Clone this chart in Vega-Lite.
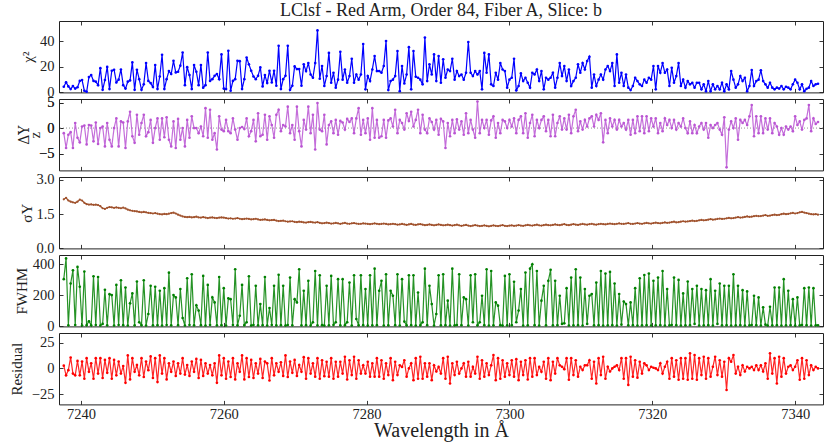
{
  "$schema": "https://vega.github.io/schema/vega-lite/v6.json",
  "padding": {"left": 8, "top": 2, "right": 8, "bottom": 0},
  "title": {"text": "LClsf - Red Arm, Order 84, Fiber A, Slice: b", "font": "Liberation Serif", "fontSize": 18, "fontWeight": "normal", "color": "#222", "offset": 0, "frame": "group", "anchor": "middle"},
  "datasets": {
    "t": [
      {"w":7237.6,"c":4.4,"d":-1,"s":2.15,"f":304,"r":2.7},
      {"w":7237.92,"c":8,"d":-3.9,"s":2.22,"f":438,"r":-6.7},
      {"w":7238.24,"c":4.7,"d":-1.3,"s":2.1,"f":6,"r":-1.7},
      {"w":7238.56,"c":2.6,"d":-0.8,"s":2.05,"f":276,"r":10.7},
      {"w":7238.88,"c":5,"d":-3.9,"s":2.02,"f":361,"r":-5},
      {"w":7239.2,"c":3,"d":1,"s":2.0,"f":8,"r":-6.7},
      {"w":7239.52,"c":4,"d":-1.9,"s":2.05,"f":383,"r":7.3},
      {"w":7239.84,"c":9,"d":-2.8,"s":2.14,"f":255,"r":-6.7},
      {"w":7240.16,"c":9.7,"d":0.3,"s":2.1,"f":5,"r":6.7},
      {"w":7240.48,"c":1.3,"d":0.5,"s":2.0,"f":353,"r":-10},
      {"w":7240.8,"c":0.5,"d":-3.2,"s":1.94,"f":7,"r":10},
      {"w":7241.12,"c":12,"d":0.6,"s":1.92,"f":32,"r":-3.3},
      {"w":7241.44,"c":13.6,"d":0.5,"s":1.93,"f":6,"r":5},
      {"w":7241.76,"c":9,"d":-2.6,"s":1.91,"f":323,"r":-10},
      {"w":7242.08,"c":8.4,"d":1.1,"s":1.92,"f":8,"r":10},
      {"w":7242.4,"c":5.7,"d":-3.1,"s":1.9,"f":318,"r":-5},
      {"w":7242.72,"c":19,"d":0,"s":1.85,"f":5,"r":10},
      {"w":7243.04,"c":2,"d":0.3,"s":1.76,"f":15,"r":-9.3},
      {"w":7243.36,"c":9.7,"d":-3.6,"s":1.73,"f":235,"r":8.3},
      {"w":7243.68,"c":20,"d":1,"s":1.78,"f":6,"r":-4.3},
      {"w":7244,"c":2.6,"d":-2.3,"s":1.81,"f":207,"r":10},
      {"w":7244.32,"c":17,"d":-3.6,"s":1.8,"f":201,"r":-10},
      {"w":7244.64,"c":17.8,"d":0,"s":1.78,"f":5,"r":8.3},
      {"w":7244.96,"c":7.8,"d":1.9,"s":1.8,"f":267,"r":-6.7},
      {"w":7245.28,"c":10,"d":-3.6,"s":1.78,"f":8,"r":6.7},
      {"w":7245.6,"c":18,"d":1.3,"s":1.76,"f":297,"r":-5},
      {"w":7245.92,"c":5.7,"d":1.1,"s":1.79,"f":7,"r":2.3},
      {"w":7246.24,"c":3,"d":-3.9,"s":1.75,"f":250,"r":-14},
      {"w":7246.56,"c":8.4,"d":1.3,"s":1.7,"f":5,"r":12.7},
      {"w":7246.88,"c":9.4,"d":3.2,"s":1.67,"f":148,"r":-10.7},
      {"w":7247.2,"c":23.5,"d":-1.6,"s":1.65,"f":212,"r":10},
      {"w":7247.52,"c":2,"d":-2.9,"s":1.63,"f":6,"r":-3.3},
      {"w":7247.84,"c":17.8,"d":2.6,"s":1.62,"f":289,"r":3.3},
      {"w":7248.16,"c":10.4,"d":-1.3,"s":1.6,"f":26,"r":-6.7},
      {"w":7248.48,"c":2,"d":1,"s":1.58,"f":7,"r":10},
      {"w":7248.8,"c":6.3,"d":2.6,"s":1.6,"f":297,"r":-8.3},
      {"w":7249.12,"c":23,"d":-1.6,"s":1.58,"f":5,"r":6.7},
      {"w":7249.44,"c":9,"d":-0.8,"s":1.56,"f":79,"r":-1.7},
      {"w":7249.76,"c":7.3,"d":1.6,"s":1.55,"f":261,"r":11.7},
      {"w":7250.08,"c":4.2,"d":-2.9,"s":1.53,"f":6,"r":-9.3},
      {"w":7250.4,"c":21.4,"d":0,"s":1.55,"f":255,"r":10},
      {"w":7250.72,"c":2.6,"d":1.9,"s":1.52,"f":7,"r":-13.3},
      {"w":7251.04,"c":12.5,"d":-2.3,"s":1.5,"f":229,"r":12.7},
      {"w":7251.36,"c":29.5,"d":1.9,"s":1.49,"f":5,"r":-5},
      {"w":7251.68,"c":2.6,"d":-1.8,"s":1.51,"f":246,"r":10},
      {"w":7252,"c":10.4,"d":2.1,"s":1.5,"f":8,"r":-10.7},
      {"w":7252.32,"c":16.7,"d":-2.3,"s":1.52,"f":346,"r":5},
      {"w":7252.64,"c":14.4,"d":-3.6,"s":1.55,"f":6,"r":-3.3},
      {"w":7252.96,"c":24.8,"d":1.3,"s":1.57,"f":201,"r":6.7},
      {"w":7253.28,"c":15.7,"d":-3.9,"s":1.53,"f":186,"r":-7.3},
      {"w":7253.6,"c":16.2,"d":1.8,"s":1.48,"f":7,"r":5},
      {"w":7253.92,"c":21,"d":-2.3,"s":1.44,"f":240,"r":-5},
      {"w":7254.24,"c":31.3,"d":0,"s":1.4,"f":53,"r":10},
      {"w":7254.56,"c":5.7,"d":-3.6,"s":1.38,"f":5,"r":-6},
      {"w":7254.88,"c":19.8,"d":1.6,"s":1.37,"f":310,"r":3.3},
      {"w":7255.2,"c":13.6,"d":-1.9,"s":1.38,"f":8,"r":-7.3},
      {"w":7255.52,"c":2.6,"d":2.3,"s":1.36,"f":336,"r":6.7},
      {"w":7255.84,"c":21.4,"d":0,"s":1.37,"f":6,"r":-3.3},
      {"w":7256.16,"c":16.2,"d":0,"s":1.39,"f":135,"r":9.3},
      {"w":7256.48,"c":5.7,"d":-1,"s":1.36,"f":101,"r":-9.3},
      {"w":7256.8,"c":21.4,"d":0.3,"s":1.35,"f":7,"r":8.3},
      {"w":7257.12,"c":3.7,"d":-1.6,"s":1.37,"f":325,"r":-7.3},
      {"w":7257.44,"c":5.7,"d":3.9,"s":1.35,"f":5,"r":5},
      {"w":7257.76,"c":31.3,"d":-1.9,"s":1.33,"f":267,"r":-5},
      {"w":7258.08,"c":9,"d":3.6,"s":1.35,"f":8,"r":3.3},
      {"w":7258.4,"c":10.4,"d":-2.3,"s":1.36,"f":186,"r":-6.7},
      {"w":7258.72,"c":13,"d":-1,"s":1.34,"f":154,"r":5},
      {"w":7259.04,"c":14.4,"d":-4.2,"s":1.33,"f":6,"r":-14},
      {"w":7259.36,"c":10.4,"d":2.3,"s":1.35,"f":318,"r":12.7},
      {"w":7259.68,"c":29.8,"d":-0.3,"s":1.36,"f":7,"r":-6.7},
      {"w":7260,"c":3,"d":-0.6,"s":1.35,"f":246,"r":10},
      {"w":7260.32,"c":2.6,"d":1.6,"s":1.33,"f":5,"r":-10},
      {"w":7260.64,"c":32.6,"d":-0.6,"s":1.31,"f":180,"r":6.7},
      {"w":7260.96,"c":1.3,"d":-1,"s":1.32,"f":175,"r":-8.3},
      {"w":7261.28,"c":9,"d":1.9,"s":1.3,"f":8,"r":10},
      {"w":7261.6,"c":10.4,"d":-0.3,"s":1.31,"f":368,"r":-10.7},
      {"w":7261.92,"c":24.8,"d":-2.3,"s":1.33,"f":6,"r":5},
      {"w":7262.24,"c":24.5,"d":0,"s":1.3,"f":68,"r":-3.3},
      {"w":7262.56,"c":2.6,"d":0.2,"s":1.28,"f":267,"r":12.7},
      {"w":7262.88,"c":10.4,"d":-0.2,"s":1.29,"f":7,"r":-10.7},
      {"w":7263.2,"c":27.4,"d":1.9,"s":1.31,"f":26,"r":10},
      {"w":7263.52,"c":22,"d":-1.6,"s":1.29,"f":323,"r":-8.3},
      {"w":7263.84,"c":17,"d":-0.6,"s":1.27,"f":5,"r":8.3},
      {"w":7264.16,"c":12.5,"d":1.6,"s":1.28,"f":8,"r":-9.3},
      {"w":7264.48,"c":10.4,"d":-2.6,"s":1.3,"f":261,"r":5},
      {"w":7264.8,"c":13,"d":2.9,"s":1.27,"f":6,"r":-5},
      {"w":7265.12,"c":19.6,"d":-1.6,"s":1.25,"f":143,"r":9.3},
      {"w":7265.44,"c":4.7,"d":-1.3,"s":1.26,"f":7,"r":-9.3},
      {"w":7265.76,"c":13.6,"d":2.6,"s":1.27,"f":318,"r":6.7},
      {"w":7266.08,"c":7.3,"d":-2.3,"s":1.25,"f":5,"r":5},
      {"w":7266.4,"c":17,"d":2.3,"s":1.23,"f":118,"r":-11.7},
      {"w":7266.72,"c":7.8,"d":0.6,"s":1.24,"f":8,"r":10},
      {"w":7267.04,"c":17,"d":-1.9,"s":1.25,"f":261,"r":-6.7},
      {"w":7267.36,"c":5.2,"d":2.6,"s":1.22,"f":6,"r":5},
      {"w":7267.68,"c":36.5,"d":3.6,"s":1.2,"f":332,"r":-3.3},
      {"w":7268,"c":2.6,"d":-0.6,"s":1.21,"f":7,"r":6},
      {"w":7268.32,"c":10.4,"d":0.6,"s":1.22,"f":261,"r":-7.3},
      {"w":7268.64,"c":13,"d":0.3,"s":1.19,"f":5,"r":12.7},
      {"w":7268.96,"c":36.5,"d":4.2,"s":1.17,"f":8,"r":-8.3},
      {"w":7269.28,"c":2,"d":-1,"s":1.18,"f":314,"r":6.7},
      {"w":7269.6,"c":5.2,"d":0.6,"s":1.19,"f":6,"r":-4.3},
      {"w":7269.92,"c":20.4,"d":-2.3,"s":1.16,"f":175,"r":8.3},
      {"w":7270.24,"c":18.3,"d":4.2,"s":1.15,"f":154,"r":-7.3},
      {"w":7270.56,"c":18.3,"d":-0.6,"s":1.17,"f":368,"r":3.3},
      {"w":7270.88,"c":5.2,"d":-3.6,"s":1.16,"f":6,"r":-3.3},
      {"w":7271.2,"c":22,"d":1.6,"s":1.14,"f":229,"r":11},
      {"w":7271.52,"c":16.7,"d":-0.3,"s":1.13,"f":7,"r":-10},
      {"w":7271.84,"c":23,"d":4.2,"s":1.15,"f":293,"r":10},
      {"w":7272.16,"c":14,"d":-1,"s":1.16,"f":5,"r":-5},
      {"w":7272.48,"c":11.5,"d":2.6,"s":1.14,"f":26,"r":5},
      {"w":7272.8,"c":23,"d":-4.2,"s":1.13,"f":357,"r":-8},
      {"w":7273.12,"c":48.6,"d":4.9,"s":1.15,"f":6,"r":10},
      {"w":7273.44,"c":10.7,"d":-0.3,"s":1.12,"f":329,"r":-10},
      {"w":7273.76,"c":20.7,"d":-0.6,"s":1.1,"f":7,"r":8},
      {"w":7274.08,"c":5,"d":2.6,"s":1.11,"f":5,"r":-7.5},
      {"w":7274.4,"c":12.8,"d":-3.2,"s":1.13,"f":261,"r":6.5},
      {"w":7274.72,"c":31,"d":0.6,"s":1.11,"f":6,"r":-8},
      {"w":7275.04,"c":7.6,"d":1.3,"s":1.09,"f":325,"r":10},
      {"w":7275.36,"c":15.4,"d":-1,"s":1.1,"f":8,"r":-10},
      {"w":7275.68,"c":3.7,"d":1.6,"s":1.12,"f":26,"r":6.5},
      {"w":7276,"c":10,"d":-1.3,"s":1.1,"f":304,"r":-8},
      {"w":7276.32,"c":31.9,"d":1.4,"s":1.08,"f":6,"r":6.5},
      {"w":7276.64,"c":10,"d":1.1,"s":1.1,"f":304,"r":-5},
      {"w":7276.96,"c":18,"d":-0.3,"s":1.12,"f":7,"r":11.4},
      {"w":7277.28,"c":7.6,"d":1.8,"s":1.09,"f":26,"r":-10.8},
      {"w":7277.6,"c":12.8,"d":1.2,"s":1.08,"f":282,"r":8},
      {"w":7277.92,"c":26.4,"d":1.9,"s":1.1,"f":5,"r":-6.5},
      {"w":7278.24,"c":7.6,"d":-1,"s":1.11,"f":329,"r":11.4},
      {"w":7278.56,"c":14,"d":1.9,"s":1.09,"f":47,"r":-10},
      {"w":7278.88,"c":10,"d":3.9,"s":1.07,"f":6,"r":8},
      {"w":7279.2,"c":14,"d":-1.3,"s":1.08,"f":329,"r":-5},
      {"w":7279.52,"c":38,"d":1.6,"s":1.1,"f":7,"r":3},
      {"w":7279.84,"c":2.4,"d":-1,"s":1.09,"f":240,"r":-5},
      {"w":7280.16,"c":12.8,"d":1.9,"s":1.07,"f":5,"r":6.5},
      {"w":7280.48,"c":8.9,"d":-2.3,"s":1.06,"f":329,"r":-8},
      {"w":7280.8,"c":18,"d":3.9,"s":1.08,"f":6,"r":5},
      {"w":7281.12,"c":28.5,"d":-1.9,"s":1.1,"f":372,"r":-8},
      {"w":7281.44,"c":16.7,"d":1.6,"s":1.08,"f":7,"r":10},
      {"w":7281.76,"c":16.7,"d":-1.9,"s":1.06,"f":229,"r":-8},
      {"w":7282.08,"c":15.4,"d":-1.6,"s":1.07,"f":293,"r":8},
      {"w":7282.4,"c":20.7,"d":1.6,"s":1.09,"f":5,"r":-10},
      {"w":7282.72,"c":40.3,"d":-1.9,"s":1.07,"f":336,"r":5},
      {"w":7283.04,"c":1.8,"d":1.5,"s":1.05,"f":6,"r":-6.5},
      {"w":7283.36,"c":8.9,"d":1.9,"s":1.06,"f":229,"r":10},
      {"w":7283.68,"c":10,"d":0.3,"s":1.08,"f":197,"r":-11.4},
      {"w":7284,"c":12.8,"d":3.6,"s":1.06,"f":7,"r":6.5},
      {"w":7284.32,"c":32.4,"d":-1,"s":1.04,"f":336,"r":-6.5},
      {"w":7284.64,"c":1,"d":1.6,"s":1.05,"f":5,"r":3},
      {"w":7284.96,"c":20.7,"d":1,"s":1.07,"f":304,"r":1.5},
      {"w":7285.28,"c":7,"d":-0.3,"s":1.05,"f":30,"r":8},
      {"w":7285.6,"c":14,"d":2.9,"s":1.03,"f":6,"r":-8},
      {"w":7285.92,"c":35.5,"d":1.4,"s":1.05,"f":329,"r":0},
      {"w":7286.24,"c":2.4,"d":3.2,"s":1.07,"f":7,"r":5},
      {"w":7286.56,"c":32.4,"d":0.3,"s":1.04,"f":329,"r":-11.4},
      {"w":7286.88,"c":12.3,"d":1.6,"s":1.03,"f":5,"r":10},
      {"w":7287.2,"c":11.5,"d":3.6,"s":1.05,"f":218,"r":-10},
      {"w":7287.52,"c":10,"d":-1,"s":1.06,"f":6,"r":11.4},
      {"w":7287.84,"c":6.3,"d":2.6,"s":1.04,"f":26,"r":-10},
      {"w":7288.16,"c":43,"d":-0.3,"s":1.02,"f":372,"r":5},
      {"w":7288.48,"c":8.9,"d":-1,"s":1.03,"f":7,"r":-8},
      {"w":7288.8,"c":22,"d":1.9,"s":1.05,"f":261,"r":5},
      {"w":7289.12,"c":14,"d":1.2,"s":1.03,"f":143,"r":-11.4},
      {"w":7289.44,"c":29.8,"d":-0.3,"s":1.01,"f":5,"r":3},
      {"w":7289.76,"c":8.9,"d":1.6,"s":1.03,"f":79,"r":-3},
      {"w":7290.08,"c":28.5,"d":-1.3,"s":1.05,"f":329,"r":1.5},
      {"w":7290.4,"c":7.6,"d":1.8,"s":1.03,"f":6,"r":-5},
      {"w":7290.72,"c":26,"d":1.3,"s":1.01,"f":336,"r":10},
      {"w":7291.04,"c":11.5,"d":-3.9,"s":1.02,"f":7,"r":-10},
      {"w":7291.36,"c":18,"d":1,"s":1.04,"f":165,"r":11.4},
      {"w":7291.68,"c":16.7,"d":-1.6,"s":1.02,"f":5,"r":-14.7},
      {"w":7292,"c":26.4,"d":1.6,"s":1.0,"f":372,"r":5},
      {"w":7292.32,"c":10,"d":-1,"s":1.02,"f":6,"r":-6.5},
      {"w":7292.64,"c":16.7,"d":1.7,"s":1.04,"f":8,"r":6.5},
      {"w":7292.96,"c":12.8,"d":-0.3,"s":1.01,"f":336,"r":-5},
      {"w":7293.28,"c":14,"d":1.3,"s":0.99,"f":7,"r":0},
      {"w":7293.6,"c":10,"d":-1.3,"s":1.01,"f":186,"r":5},
      {"w":7293.92,"c":15.4,"d":2.9,"s":1.03,"f":175,"r":-8},
      {"w":7294.24,"c":39.5,"d":-1,"s":1.0,"f":5,"r":6.5},
      {"w":7294.56,"c":15.4,"d":1.6,"s":0.98,"f":329,"r":-8},
      {"w":7294.88,"c":12.8,"d":-0.3,"s":1.0,"f":26,"r":1.5},
      {"w":7295.2,"c":16.7,"d":-1.9,"s":1.02,"f":336,"r":-5},
      {"w":7295.52,"c":14,"d":5.2,"s":1.0,"f":6,"r":11.4},
      {"w":7295.84,"c":16.7,"d":-1,"s":0.98,"f":26,"r":-10},
      {"w":7296.16,"c":2.4,"d":1.6,"s":0.99,"f":197,"r":8},
      {"w":7296.48,"c":31,"d":0,"s":1.01,"f":7,"r":-8},
      {"w":7296.8,"c":15.4,"d":1.6,"s":0.99,"f":368,"r":5},
      {"w":7297.12,"c":29.8,"d":-1.3,"s":0.97,"f":5,"r":-6.5},
      {"w":7297.44,"c":6.3,"d":1.5,"s":0.99,"f":357,"r":3},
      {"w":7297.76,"c":5,"d":2.3,"s":1.01,"f":6,"r":13},
      {"w":7298.08,"c":15.4,"d":-1.9,"s":0.99,"f":154,"r":-11.4},
      {"w":7298.4,"c":10,"d":1,"s":0.98,"f":133,"r":10},
      {"w":7298.72,"c":23,"d":-1,"s":1.0,"f":7,"r":-10},
      {"w":7299.04,"c":18,"d":1.6,"s":1.02,"f":5,"r":8},
      {"w":7299.36,"c":16.7,"d":1.3,"s":0.99,"f":325,"r":-8},
      {"w":7299.68,"c":3.7,"d":0,"s":0.98,"f":6,"r":5},
      {"w":7300,"c":10,"d":1.6,"s":1.0,"f":336,"r":-6.5},
      {"w":7300.32,"c":11.5,"d":0.3,"s":1.01,"f":7,"r":8},
      {"w":7300.64,"c":26.4,"d":1.9,"s":0.99,"f":287,"r":-8},
      {"w":7300.96,"c":1.6,"d":-1,"s":1.0,"f":26,"r":9},
      {"w":7301.28,"c":5,"d":1.6,"s":1.02,"f":101,"r":-11.4},
      {"w":7301.6,"c":14.9,"d":2.3,"s":1.0,"f":240,"r":6.5},
      {"w":7301.92,"c":8.9,"d":-1,"s":0.99,"f":5,"r":-6.5},
      {"w":7302.24,"c":11.5,"d":2.9,"s":1.01,"f":347,"r":8},
      {"w":7302.56,"c":7.6,"d":-1.9,"s":1.03,"f":6,"r":-10.8},
      {"w":7302.88,"c":3.7,"d":1,"s":1.01,"f":372,"r":10},
      {"w":7303.2,"c":15.4,"d":2.6,"s":1.0,"f":400,"r":-8},
      {"w":7303.52,"c":14,"d":-1.6,"s":1.02,"f":7,"r":10},
      {"w":7303.84,"c":18,"d":1.6,"s":1.04,"f":357,"r":-6.5},
      {"w":7304.16,"c":8.9,"d":0,"s":1.01,"f":5,"r":1.5},
      {"w":7304.48,"c":16.7,"d":1.6,"s":1.0,"f":165,"r":-3.3},
      {"w":7304.8,"c":2.4,"d":2.3,"s":1.02,"f":261,"r":6.5},
      {"w":7305.12,"c":11.5,"d":-0.6,"s":1.04,"f":6,"r":-10},
      {"w":7305.44,"c":10,"d":1.6,"s":1.02,"f":293,"r":10},
      {"w":7305.76,"c":11.5,"d":-1.6,"s":1.01,"f":364,"r":-11.4},
      {"w":7306.08,"c":15.4,"d":2.6,"s":1.03,"f":6,"r":6.5},
      {"w":7306.4,"c":3.7,"d":-1.6,"s":1.05,"f":293,"r":-5},
      {"w":7306.72,"c":11.5,"d":1,"s":1.03,"f":7,"r":10},
      {"w":7307.04,"c":23,"d":2.3,"s":1.02,"f":197,"r":3},
      {"w":7307.36,"c":12.8,"d":-0.3,"s":1.04,"f":15,"r":1.6},
      {"w":7307.68,"c":20.7,"d":1.9,"s":1.06,"f":19,"r":-0.7},
      {"w":7308,"c":8.9,"d":-0.3,"s":1.03,"f":246,"r":10},
      {"w":7308.32,"c":18,"d":2.6,"s":1.02,"f":5,"r":-11},
      {"w":7308.64,"c":5,"d":-1,"s":1.04,"f":314,"r":10},
      {"w":7308.96,"c":8.9,"d":2.3,"s":1.06,"f":6,"r":-6.5},
      {"w":7309.28,"c":11.5,"d":3.6,"s":1.04,"f":368,"r":8},
      {"w":7309.6,"c":22,"d":-0.6,"s":1.03,"f":7,"r":-8},
      {"w":7309.92,"c":15.4,"d":1.3,"s":1.05,"f":314,"r":1.6},
      {"w":7310.24,"c":23,"d":-0.3,"s":1.07,"f":5,"r":-1.6},
      {"w":7310.56,"c":18,"d":1.6,"s":1.05,"f":240,"r":3},
      {"w":7310.88,"c":24.6,"d":0.3,"s":1.04,"f":15,"r":3},
      {"w":7311.2,"c":28,"d":1.9,"s":1.06,"f":197,"r":8},
      {"w":7311.52,"c":3.7,"d":2.3,"s":1.08,"f":208,"r":-10},
      {"w":7311.84,"c":14,"d":0.3,"s":1.05,"f":6,"r":6.5},
      {"w":7312.16,"c":5,"d":2.6,"s":1.04,"f":282,"r":-14.7},
      {"w":7312.48,"c":10,"d":1.6,"s":1.06,"f":7,"r":10},
      {"w":7312.8,"c":14,"d":2.9,"s":1.08,"f":357,"r":-6.5},
      {"w":7313.12,"c":10,"d":-2.8,"s":1.06,"f":5,"r":11.4},
      {"w":7313.44,"c":18,"d":1.6,"s":1.05,"f":340,"r":-10},
      {"w":7313.76,"c":20.7,"d":-1,"s":1.07,"f":6,"r":1.6},
      {"w":7314.08,"c":16.7,"d":1.9,"s":1.09,"f":351,"r":-3},
      {"w":7314.4,"c":23,"d":0.3,"s":1.07,"f":7,"r":0},
      {"w":7314.72,"c":5,"d":1.6,"s":1.06,"f":276,"r":1.6},
      {"w":7315.04,"c":29.8,"d":-0.3,"s":1.08,"f":5,"r":3},
      {"w":7315.36,"c":7.6,"d":1.6,"s":1.1,"f":208,"r":-1.6},
      {"w":7315.68,"c":15.4,"d":0.3,"s":1.08,"f":10,"r":10},
      {"w":7316,"c":5,"d":1,"s":1.07,"f":160,"r":-10},
      {"w":7316.32,"c":14,"d":-0.3,"s":1.09,"f":143,"r":10},
      {"w":7316.64,"c":3.7,"d":1.6,"s":1.11,"f":6,"r":-16},
      {"w":7316.96,"c":1.8,"d":-1.3,"s":1.08,"f":154,"r":11.4},
      {"w":7317.28,"c":5,"d":1.6,"s":1.07,"f":7,"r":-8},
      {"w":7317.6,"c":11.5,"d":-1,"s":1.09,"f":246,"r":8},
      {"w":7317.92,"c":8.9,"d":2.3,"s":1.11,"f":5,"r":-9},
      {"w":7318.24,"c":6.3,"d":-0.6,"s":1.09,"f":310,"r":6.5},
      {"w":7318.56,"c":5,"d":2.3,"s":1.08,"f":6,"r":-5},
      {"w":7318.88,"c":10,"d":-1,"s":1.1,"f":331,"r":5},
      {"w":7319.2,"c":7.6,"d":2.3,"s":1.12,"f":7,"r":3},
      {"w":7319.52,"c":11.5,"d":-0.6,"s":1.1,"f":340,"r":-1.6},
      {"w":7319.84,"c":10,"d":1.9,"s":1.09,"f":5,"r":1.6},
      {"w":7320.16,"c":20.7,"d":0.3,"s":1.11,"f":293,"r":0.7},
      {"w":7320.48,"c":2.4,"d":1.9,"s":1.13,"f":6,"r":0},
      {"w":7320.8,"c":20.7,"d":-1,"s":1.11,"f":314,"r":-1.6},
      {"w":7321.12,"c":15.4,"d":1,"s":1.1,"f":7,"r":5},
      {"w":7321.44,"c":23,"d":-0.6,"s":1.12,"f":357,"r":-5},
      {"w":7321.76,"c":15.4,"d":1.9,"s":1.14,"f":5,"r":1.6},
      {"w":7322.08,"c":18,"d":0.6,"s":1.12,"f":240,"r":6.5},
      {"w":7322.4,"c":5,"d":1.6,"s":1.13,"f":6,"r":-10},
      {"w":7322.72,"c":19.3,"d":0,"s":1.15,"f":8,"r":10},
      {"w":7323.04,"c":7.6,"d":1.6,"s":1.17,"f":314,"r":-8},
      {"w":7323.36,"c":12.8,"d":-0.3,"s":1.14,"f":7,"r":8},
      {"w":7323.68,"c":23,"d":1,"s":1.15,"f":299,"r":-11},
      {"w":7324,"c":5,"d":0.3,"s":1.17,"f":5,"r":10},
      {"w":7324.32,"c":10,"d":1.9,"s":1.19,"f":212,"r":-10},
      {"w":7324.64,"c":3.7,"d":0,"s":1.17,"f":6,"r":10},
      {"w":7324.96,"c":8.9,"d":-1,"s":1.18,"f":289,"r":-11},
      {"w":7325.28,"c":6.3,"d":1.3,"s":1.2,"f":7,"r":14.7},
      {"w":7325.6,"c":7.6,"d":-1,"s":1.22,"f":240,"r":-10},
      {"w":7325.92,"c":3.7,"d":0.6,"s":1.2,"f":15,"r":13},
      {"w":7326.24,"c":7.6,"d":-1,"s":1.21,"f":261,"r":-11},
      {"w":7326.56,"c":7.6,"d":0.3,"s":1.23,"f":5,"r":10},
      {"w":7326.88,"c":2.4,"d":1,"s":1.25,"f":240,"r":-6.5},
      {"w":7327.2,"c":6.3,"d":-0.3,"s":1.23,"f":6,"r":11.4},
      {"w":7327.52,"c":1,"d":1,"s":1.24,"f":233,"r":-10},
      {"w":7327.84,"c":8.9,"d":-1.9,"s":1.26,"f":7,"r":10},
      {"w":7328.16,"c":1,"d":0.6,"s":1.28,"f":304,"r":-8},
      {"w":7328.48,"c":6.3,"d":0,"s":1.26,"f":5,"r":1.6},
      {"w":7328.8,"c":2.4,"d":0.6,"s":1.27,"f":229,"r":11.4},
      {"w":7329.12,"c":5,"d":1,"s":1.29,"f":15,"r":-6.5},
      {"w":7329.44,"c":2.4,"d":-0.3,"s":1.31,"f":276,"r":8},
      {"w":7329.76,"c":7.6,"d":-1.3,"s":1.29,"f":6,"r":-8},
      {"w":7330.08,"c":1,"d":2.1,"s":1.3,"f":261,"r":6.5},
      {"w":7330.4,"c":6.3,"d":-7.7,"s":1.32,"f":7,"r":-21},
      {"w":7330.72,"c":2.4,"d":-0.3,"s":1.34,"f":261,"r":10},
      {"w":7331.04,"c":16.7,"d":1.3,"s":1.32,"f":5,"r":6.5},
      {"w":7331.36,"c":10,"d":0,"s":1.33,"f":336,"r":13},
      {"w":7331.68,"c":3.7,"d":1.9,"s":1.35,"f":6,"r":-5},
      {"w":7332,"c":6.3,"d":-2.3,"s":1.37,"f":261,"r":1.6},
      {"w":7332.32,"c":12.8,"d":1.6,"s":1.35,"f":7,"r":-6.5},
      {"w":7332.64,"c":8.9,"d":1,"s":1.36,"f":233,"r":3},
      {"w":7332.96,"c":11.5,"d":1.6,"s":1.38,"f":5,"r":-3},
      {"w":7333.28,"c":1,"d":0.6,"s":1.4,"f":225,"r":1.6},
      {"w":7333.6,"c":5,"d":2.3,"s":1.38,"f":6,"r":0},
      {"w":7333.92,"c":17.5,"d":4.5,"s":1.39,"f":8,"r":1.6},
      {"w":7334.24,"c":5,"d":-1.6,"s":1.41,"f":197,"r":-1.6},
      {"w":7334.56,"c":8.9,"d":2.3,"s":1.43,"f":7,"r":3},
      {"w":7334.88,"c":10,"d":-1,"s":1.41,"f":186,"r":-1.6},
      {"w":7335.2,"c":17.3,"d":2.3,"s":1.42,"f":5,"r":3},
      {"w":7335.52,"c":8.9,"d":-1,"s":1.44,"f":122,"r":-3},
      {"w":7335.84,"c":6.3,"d":1.9,"s":1.46,"f":10,"r":5},
      {"w":7336.16,"c":3.7,"d":-0.3,"s":1.43,"f":5,"r":-10},
      {"w":7336.48,"c":7.6,"d":1.9,"s":1.44,"f":126,"r":14.7},
      {"w":7336.8,"c":3.7,"d":-1,"s":1.46,"f":6,"r":-5},
      {"w":7337.12,"c":2.4,"d":1,"s":1.48,"f":250,"r":10},
      {"w":7337.44,"c":3.7,"d":0.3,"s":1.46,"f":7,"r":-14.7},
      {"w":7337.76,"c":3,"d":-1.3,"s":1.47,"f":250,"r":11.4},
      {"w":7338.08,"c":5,"d":0,"s":1.5,"f":5,"r":-8},
      {"w":7338.4,"c":2.4,"d":-1.3,"s":1.52,"f":304,"r":10},
      {"w":7338.72,"c":4.4,"d":0.3,"s":1.5,"f":6,"r":-5},
      {"w":7339.04,"c":3.7,"d":-0.3,"s":1.51,"f":229,"r":1.6},
      {"w":7339.36,"c":2.4,"d":0.3,"s":1.54,"f":7,"r":3},
      {"w":7339.68,"c":6.3,"d":-0.6,"s":1.56,"f":175,"r":-1.6},
      {"w":7340,"c":10,"d":2.3,"s":1.53,"f":5,"r":1.6},
      {"w":7340.32,"c":7.6,"d":0.6,"s":1.55,"f":186,"r":8},
      {"w":7340.64,"c":2.4,"d":1.3,"s":1.58,"f":6,"r":-11},
      {"w":7340.96,"c":6.3,"d":-0.3,"s":1.6,"f":8,"r":10},
      {"w":7341.28,"c":1,"d":1.6,"s":1.57,"f":246,"r":-10},
      {"w":7341.6,"c":2.8,"d":1.9,"s":1.55,"f":7,"r":8},
      {"w":7341.92,"c":3.7,"d":4.5,"s":1.52,"f":250,"r":-6.5},
      {"w":7342.24,"c":8.9,"d":-0.6,"s":1.5,"f":5,"r":3},
      {"w":7342.56,"c":5,"d":1.9,"s":1.49,"f":246,"r":-1.6},
      {"w":7342.88,"c":6.3,"d":0.8,"s":1.5,"f":6,"r":1.6},
      {"w":7343.2,"c":6.8,"d":1.2,"s":1.48,"f":6,"r":0}
    ]
  },
  "data": {"name": "t"},
  "spacing": 6,
  "bounds": "flush",
  "vconcat": [
    {
      "width": 764, "height": 71.4,
      "layer": [
        {
          "mark": {"type": "line", "color": "#0000ff", "strokeWidth": 1.2},
          "encoding": {
            "x": {"field": "w", "type": "quantitative", "scale": {"domain": [7236.93, 7343.9], "nice": false, "zero": false},
                  "axis": {"orient": "bottom", "values": [7240, 7260, 7280, 7300, 7320, 7340], "labels": false, "title": null}},
            "y": {"field": "c", "type": "quantitative", "scale": {"domain": [0, 56], "nice": false, "zero": false},
                  "axis": {"orient": "left", "values": [0, 20, 40], "title": "χ²", "titleX": -32}}
          }
        },
        {
          "mark": {"type": "circle", "color": "#0000ff", "size": 7, "opacity": 1},
          "encoding": {
            "x": {"field": "w", "type": "quantitative", "scale": {"domain": [7236.93, 7343.9], "nice": false, "zero": false},
                  "axis": {"orient": "top", "values": [7240, 7260, 7280, 7300, 7320, 7340], "labels": false, "title": null}},
            "y": {"field": "c", "type": "quantitative", "scale": {"domain": [0, 56], "nice": false, "zero": false},
                  "axis": {"orient": "right", "values": [0, 20, 40], "labels": false, "title": null}}
          }
        }
      ],
      "resolve": {"axis": {"x": "independent", "y": "independent"}}
    },
    {
      "width": 764, "height": 71.4,
      "layer": [
        {
          "data": {"values": [{"z": 0}]},
          "mark": {"type": "rule", "color": "#888888", "strokeWidth": 0.9, "strokeDash": [1, 2]},
          "encoding": {"y": {"field": "z", "type": "quantitative", "scale": {"domain": [-8.3, 5.7], "nice": false, "zero": false}}}
        },
        {
          "mark": {"type": "line", "color": "#ba55d3", "strokeWidth": 1.2, "opacity": 0.85},
          "encoding": {
            "x": {"field": "w", "type": "quantitative", "scale": {"domain": [7236.93, 7343.9], "nice": false, "zero": false},
                  "axis": {"orient": "bottom", "values": [7240, 7260, 7280, 7300, 7320, 7340], "labels": false, "title": null}},
            "y": {"field": "d", "type": "quantitative", "scale": {"domain": [-8.3, 5.7], "nice": false, "zero": false},
                  "axis": {"orient": "left", "values": [-5, 0, 5], "title": "ΔY", "titleFont": "DejaVu Serif", "titleFontSize": 14, "titleX": -35}}
          }
        },
        {
          "mark": {"type": "circle", "color": "#ba55d3", "size": 7, "opacity": 1},
          "encoding": {
            "x": {"field": "w", "type": "quantitative", "scale": {"domain": [7236.93, 7343.9], "nice": false, "zero": false},
                  "axis": {"orient": "top", "values": [7240, 7260, 7280, 7300, 7320, 7340], "labels": false, "title": null}},
            "y": {"field": "d", "type": "quantitative", "scale": {"domain": [-8.3, 5.7], "nice": false, "zero": false},
                  "axis": {"orient": "right", "values": [-5, 0, 5], "labels": false, "title": null}}
          }
        }
      ],
      "resolve": {"axis": {"x": "independent", "y": "independent"}}
    },
    {
      "width": 764, "height": 71.4,
      "layer": [
        {
          "mark": {"type": "line", "color": "#a0522d", "strokeWidth": 1.2},
          "encoding": {
            "x": {"field": "w", "type": "quantitative", "scale": {"domain": [7236.93, 7343.9], "nice": false, "zero": false},
                  "axis": {"orient": "bottom", "values": [7240, 7260, 7280, 7300, 7320, 7340], "labels": false, "title": null}},
            "y": {"field": "s", "type": "quantitative", "scale": {"domain": [0, 3.13], "nice": false, "zero": false},
                  "axis": {"orient": "left", "values": [0, 1.5, 3], "format": ".1f", "title": "σY", "titleX": -33}}
          }
        },
        {
          "mark": {"type": "circle", "color": "#a0522d", "size": 5, "opacity": 1},
          "encoding": {
            "x": {"field": "w", "type": "quantitative", "scale": {"domain": [7236.93, 7343.9], "nice": false, "zero": false},
                  "axis": {"orient": "top", "values": [7240, 7260, 7280, 7300, 7320, 7340], "labels": false, "title": null}},
            "y": {"field": "s", "type": "quantitative", "scale": {"domain": [0, 3.13], "nice": false, "zero": false},
                  "axis": {"orient": "right", "values": [0, 1.5, 3], "labels": false, "title": null}}
          }
        }
      ],
      "resolve": {"axis": {"x": "independent", "y": "independent"}}
    },
    {
      "width": 764, "height": 71.4,
      "layer": [
        {
          "mark": {"type": "line", "color": "#008000", "strokeWidth": 1.2, "opacity": 0.85},
          "encoding": {
            "x": {"field": "w", "type": "quantitative", "scale": {"domain": [7236.93, 7343.9], "nice": false, "zero": false},
                  "axis": {"orient": "bottom", "values": [7240, 7260, 7280, 7300, 7320, 7340], "labels": false, "title": null}},
            "y": {"field": "f", "type": "quantitative", "scale": {"domain": [-1, 460], "nice": false, "zero": false},
                  "axis": {"orient": "left", "values": [0, 200, 400], "title": "FWHM", "titleX": -38}}
          }
        },
        {
          "mark": {"type": "circle", "color": "#008000", "size": 7, "opacity": 1},
          "encoding": {
            "x": {"field": "w", "type": "quantitative", "scale": {"domain": [7236.93, 7343.9], "nice": false, "zero": false},
                  "axis": {"orient": "top", "values": [7240, 7260, 7280, 7300, 7320, 7340], "labels": false, "title": null}},
            "y": {"field": "f", "type": "quantitative", "scale": {"domain": [-1, 460], "nice": false, "zero": false},
                  "axis": {"orient": "right", "values": [0, 200, 400], "labels": false, "title": null}}
          }
        }
      ],
      "resolve": {"axis": {"x": "independent", "y": "independent"}}
    },
    {
      "width": 764, "height": 71.4,
      "layer": [
        {
          "mark": {"type": "line", "color": "#ff0000", "strokeWidth": 1.2, "opacity": 0.85},
          "encoding": {
            "x": {"field": "w", "type": "quantitative", "scale": {"domain": [7236.93, 7343.9], "nice": false, "zero": false},
                  "axis": {"orient": "bottom", "values": [7240, 7260, 7280, 7300, 7320, 7340], "format": "d", "title": "Wavelength in Å", "titleFontSize": 20, "titlePadding": 0}},
            "y": {"field": "r", "type": "quantitative", "scale": {"domain": [-35, 34.5], "nice": false, "zero": false},
                  "axis": {"orient": "left", "values": [-25, 0, 25], "title": "Residual", "titleX": -43}}
          }
        },
        {
          "mark": {"type": "circle", "color": "#ff0000", "size": 7, "opacity": 1},
          "encoding": {
            "x": {"field": "w", "type": "quantitative", "scale": {"domain": [7236.93, 7343.9], "nice": false, "zero": false},
                  "axis": {"orient": "top", "values": [7240, 7260, 7280, 7300, 7320, 7340], "labels": false, "title": null}},
            "y": {"field": "r", "type": "quantitative", "scale": {"domain": [-35, 34.5], "nice": false, "zero": false},
                  "axis": {"orient": "right", "values": [-25, 0, 25], "labels": false, "title": null}}
          }
        }
      ],
      "resolve": {"axis": {"x": "independent", "y": "independent"}}
    }
  ],
  "config": {
    "font": "Liberation Serif",
    "view": {"stroke": "#222222", "strokeWidth": 1},
    "axis": {
      "grid": false, "domain": false, "tickSize": -4, "tickColor": "#222222", "tickWidth": 0.9, "minExtent": 0,
      "labelFont": "Liberation Serif", "labelFontSize": 14.5, "labelColor": "#222222",
      "titleFont": "Liberation Serif", "titleFontSize": 15, "titleFontWeight": "normal", "titleColor": "#222222"
    },
    "axisX": {"labelPadding": 7},
    "axisY": {"labelPadding": 9, "titleBaseline": "middle"}
  }
}
